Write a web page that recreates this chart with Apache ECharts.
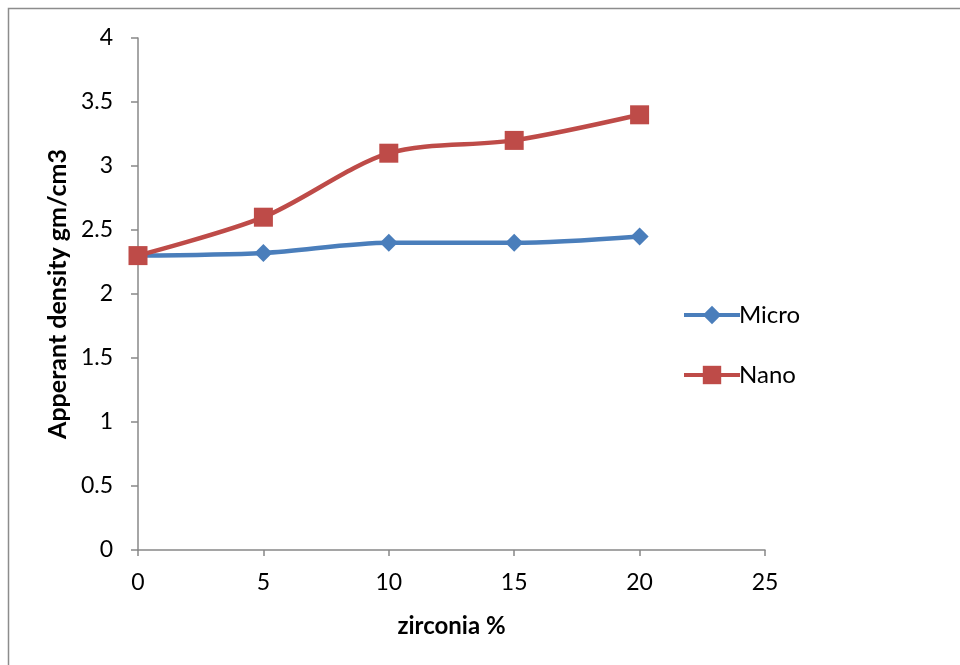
<!DOCTYPE html>
<html><head><meta charset="utf-8">
<script src="https://cdn.jsdelivr.net/npm/echarts@6/dist/echarts.min.js"></script>
<style>html,body{margin:0;padding:0;background:#fff}#c{width:960px;height:665px}</style>
</head><body><div id="c"></div>
<script>
const xValues = [0, 5, 10, 15, 20];
const microValues = [2.3, 2.32, 2.4, 2.4, 2.45];
const nanoValues = [2.3, 2.6, 3.1, 3.2, 3.4];
const seriesNames = ['Micro', 'Nano'];
const xTitle = 'zirconia %';
const yTitle = 'Apperant density gm/cm3';

const chart = echarts.init(document.getElementById('c'));
const font = 'Lato, Open Sans, sans-serif';
chart.setOption({
  animation: false,
  graphic: [{type:'rect', shape:{x:8.5,y:8.5,width:1000,height:1000}, style:{fill:'none', stroke:'#8c8c8c', lineWidth:1.5}, z:-1}],
  grid: {left:138, right:195, top:38, bottom:115},
  legend: {
    orient:'vertical', left:677, top:298, itemGap:36, itemWidth:56, itemHeight:23,
    lineStyle:{width:4},
    textStyle:{fontFamily:font, fontSize:24, color:'#000', padding:[0,0,0,-6]},
    data: seriesNames
  },
  xAxis: {
    type:'value', min:0, max:25, interval:5,
    name:xTitle, nameLocation:'middle', nameGap:64,
    nameTextStyle:{fontFamily:font, fontSize:24, fontWeight:'bold', color:'#000'},
    axisLine:{show:true, onZero:false, lineStyle:{color:'#888', width:1.5}},
    axisTick:{show:true, length:6, lineStyle:{color:'#888', width:1.5}},
    axisLabel:{fontFamily:font, fontSize:23, color:'#000', margin:21},
    splitLine:{show:false}
  },
  yAxis: {
    type:'value', min:0, max:4, interval:0.5,
    name:yTitle, nameLocation:'middle', nameGap:60,
    nameTextStyle:{fontFamily:font, fontSize:25, fontWeight:'bold', color:'#000'},
    axisLine:{show:true, lineStyle:{color:'#888', width:1.5}},
    axisTick:{show:true, length:7, lineStyle:{color:'#888', width:1.5}},
    axisLabel:{fontFamily:font, fontSize:23, color:'#000', margin:25},
    splitLine:{show:false}
  },
  series: [
    {name:seriesNames[0], type:'line', smooth:0.3, symbol:'diamond', symbolSize:18,
     data:xValues.map((x,i)=>[x,microValues[i]]),
     lineStyle:{color:'#4A7EBB', width:4.5}, itemStyle:{color:'#4A7EBB'}},
    {name:seriesNames[1], type:'line', smooth:0.3, symbol:'rect', symbolSize:19,
     data:xValues.map((x,i)=>[x,nanoValues[i]]),
     lineStyle:{color:'#BE4B48', width:4.5}, itemStyle:{color:'#BE4B48'}}
  ]
});
</script></body></html>
